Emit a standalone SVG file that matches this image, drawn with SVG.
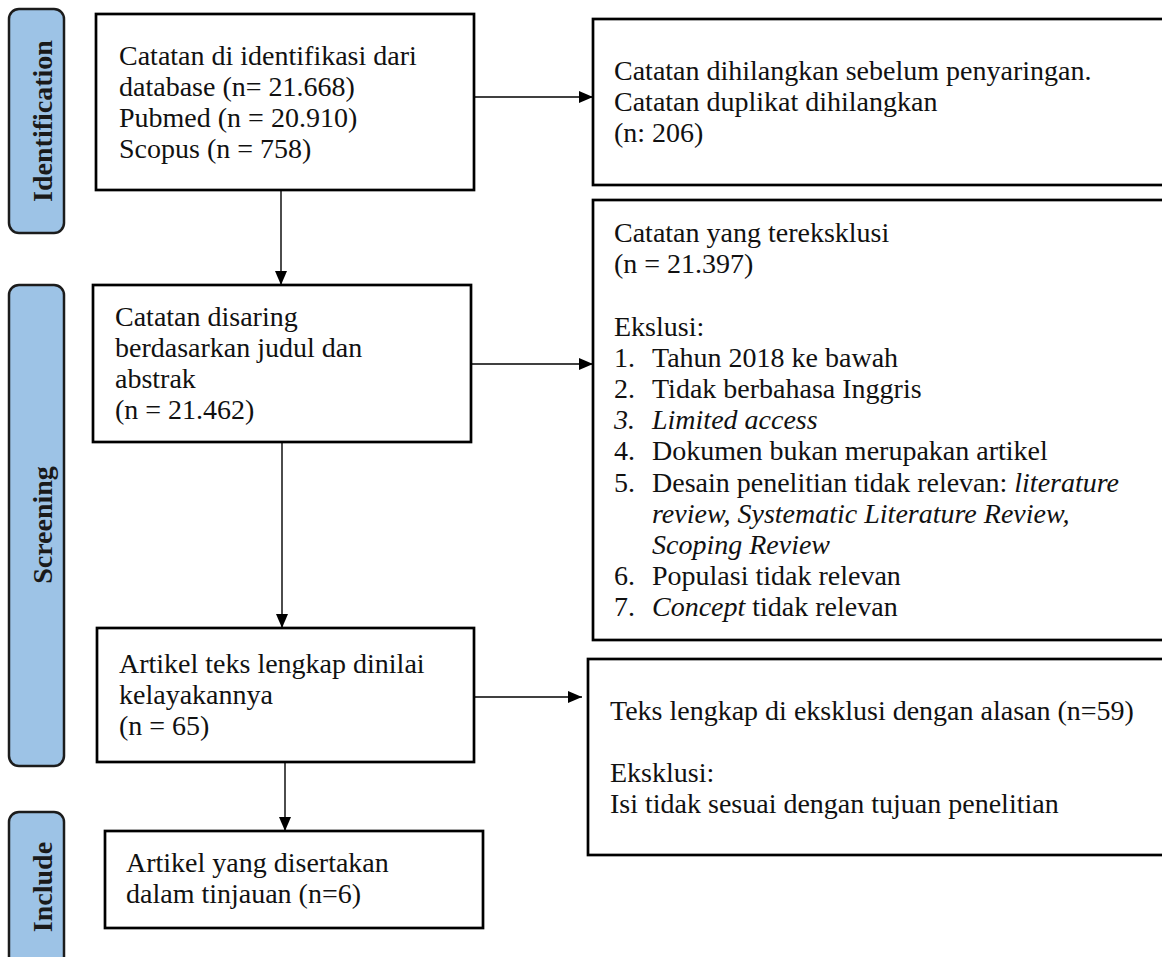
<svg xmlns="http://www.w3.org/2000/svg" width="1162" height="957" viewBox="0 0 1162 957">
<defs>
<style>
.lab{fill:#9dc3e6;stroke:#1c1c1c;stroke-width:2.5}
.labt{font-family:"Liberation Serif","Times New Roman",serif;font-weight:bold;font-size:28px;fill:#1a1a1a;text-anchor:middle}
.box{fill:#fff;stroke:#000;stroke-width:2.7}
.t{font-family:"Liberation Serif","Times New Roman",serif;font-size:28px;fill:#111}
.i{font-style:italic}
.con{stroke:#000;stroke-width:1.4;fill:none;marker-end:url(#ah)}
</style>
<marker id="ah" viewBox="0 0 14 12" refX="14" refY="6" markerWidth="14" markerHeight="12" markerUnits="userSpaceOnUse" orient="auto">
<path d="M0,0 L14,6 L0,12 Z" fill="#000"/>
</marker>
</defs>
<rect width="1162" height="957" fill="#fff"/>

<g id="label-identification">
<rect class="lab" x="9" y="9" width="55" height="224" rx="10"/>
<text class="labt" transform="translate(52,121) rotate(-90)">Identification</text>
</g>
<g id="label-screening">
<rect class="lab" x="9" y="285" width="55" height="481" rx="10"/>
<text class="labt" transform="translate(52,525) rotate(-90)">Screening</text>
</g>
<g id="label-include">
<rect class="lab" x="9" y="812" width="55" height="170" rx="10"/>
<text class="labt" transform="translate(52,887) rotate(-90)">Include</text>
</g>

<g id="connectors">
<line class="con" x1="474" y1="97" x2="593" y2="97"/>
<line class="con" x1="281" y1="190" x2="281" y2="285"/>
<line class="con" x1="471" y1="364" x2="593" y2="364"/>
<line class="con" x1="282" y1="442" x2="282" y2="628"/>
<line class="con" x1="474" y1="697" x2="582" y2="697"/>
<line class="con" x1="285" y1="762" x2="285" y2="831"/>
</g>

<g id="node-identified">
<rect class="box" x="96" y="14" width="378" height="176"/>
<text class="t" x="119" y="65">Catatan di identifikasi dari</text>
<text class="t" x="119" y="96">database (n= 21.668)</text>
<text class="t" x="119" y="127">Pubmed (n = 20.910)</text>
<text class="t" x="119" y="158">Scopus (n = 758)</text>
</g>

<g id="node-removed">
<rect class="box" x="593" y="19" width="600" height="166"/>
<text class="t" x="614" y="80">Catatan dihilangkan sebelum penyaringan.</text>
<text class="t" x="614" y="111">Catatan duplikat dihilangkan</text>
<text class="t" x="614" y="142">(n: 206)</text>
</g>

<g id="node-screened">
<rect class="box" x="93" y="285" width="378" height="157"/>
<text class="t" x="115" y="326">Catatan disaring</text>
<text class="t" x="115" y="357">berdasarkan judul dan</text>
<text class="t" x="115" y="388">abstrak</text>
<text class="t" x="115" y="419">(n = 21.462)</text>
</g>

<g id="node-excluded">
<rect class="box" x="593" y="200" width="600" height="440"/>
<text class="t" x="614" y="242">Catatan yang tereksklusi</text>
<text class="t" x="614" y="273">(n = 21.397)</text>
<text class="t" x="614" y="336">Ekslusi:</text>
<text class="t" x="614" y="367">1.</text><text class="t" x="652" y="367">Tahun 2018 ke bawah</text>
<text class="t" x="614" y="398">2.</text><text class="t" x="652" y="398">Tidak berbahasa Inggris</text>
<text class="t i" x="614" y="429">3.</text><text class="t i" x="652" y="429">Limited access</text>
<text class="t" x="614" y="460">4.</text><text class="t" x="652" y="460">Dokumen bukan merupakan artikel</text>
<text class="t" x="614" y="492">5.</text><text class="t" x="652" y="492">Desain penelitian tidak relevan: <tspan class="i">literature</tspan></text>
<text class="t i" x="652" y="523">review, Systematic Literature Review,</text>
<text class="t i" x="652" y="554">Scoping Review</text>
<text class="t" x="614" y="585">6.</text><text class="t" x="652" y="585">Populasi tidak relevan</text>
<text class="t" x="614" y="616">7.</text><text class="t" x="652" y="616"><tspan class="i">Concept</tspan> tidak relevan</text>
</g>

<g id="node-fulltext">
<rect class="box" x="97" y="628" width="377" height="134"/>
<text class="t" x="119" y="673">Artikel teks lengkap dinilai</text>
<text class="t" x="119" y="704">kelayakannya</text>
<text class="t" x="119" y="735">(n = 65)</text>
</g>

<g id="node-fulltext-excluded">
<rect class="box" x="588" y="659" width="600" height="196"/>
<text class="t" x="610" y="720">Teks lengkap di eksklusi dengan alasan (n=59)</text>
<text class="t" x="610" y="782">Eksklusi:</text>
<text class="t" x="610" y="813">Isi tidak sesuai dengan tujuan penelitian</text>
</g>

<g id="node-included">
<rect class="box" x="105" y="831" width="378" height="97"/>
<text class="t" x="126" y="872">Artikel yang disertakan</text>
<text class="t" x="126" y="903">dalam tinjauan (n=6)</text>
</g>
</svg>
